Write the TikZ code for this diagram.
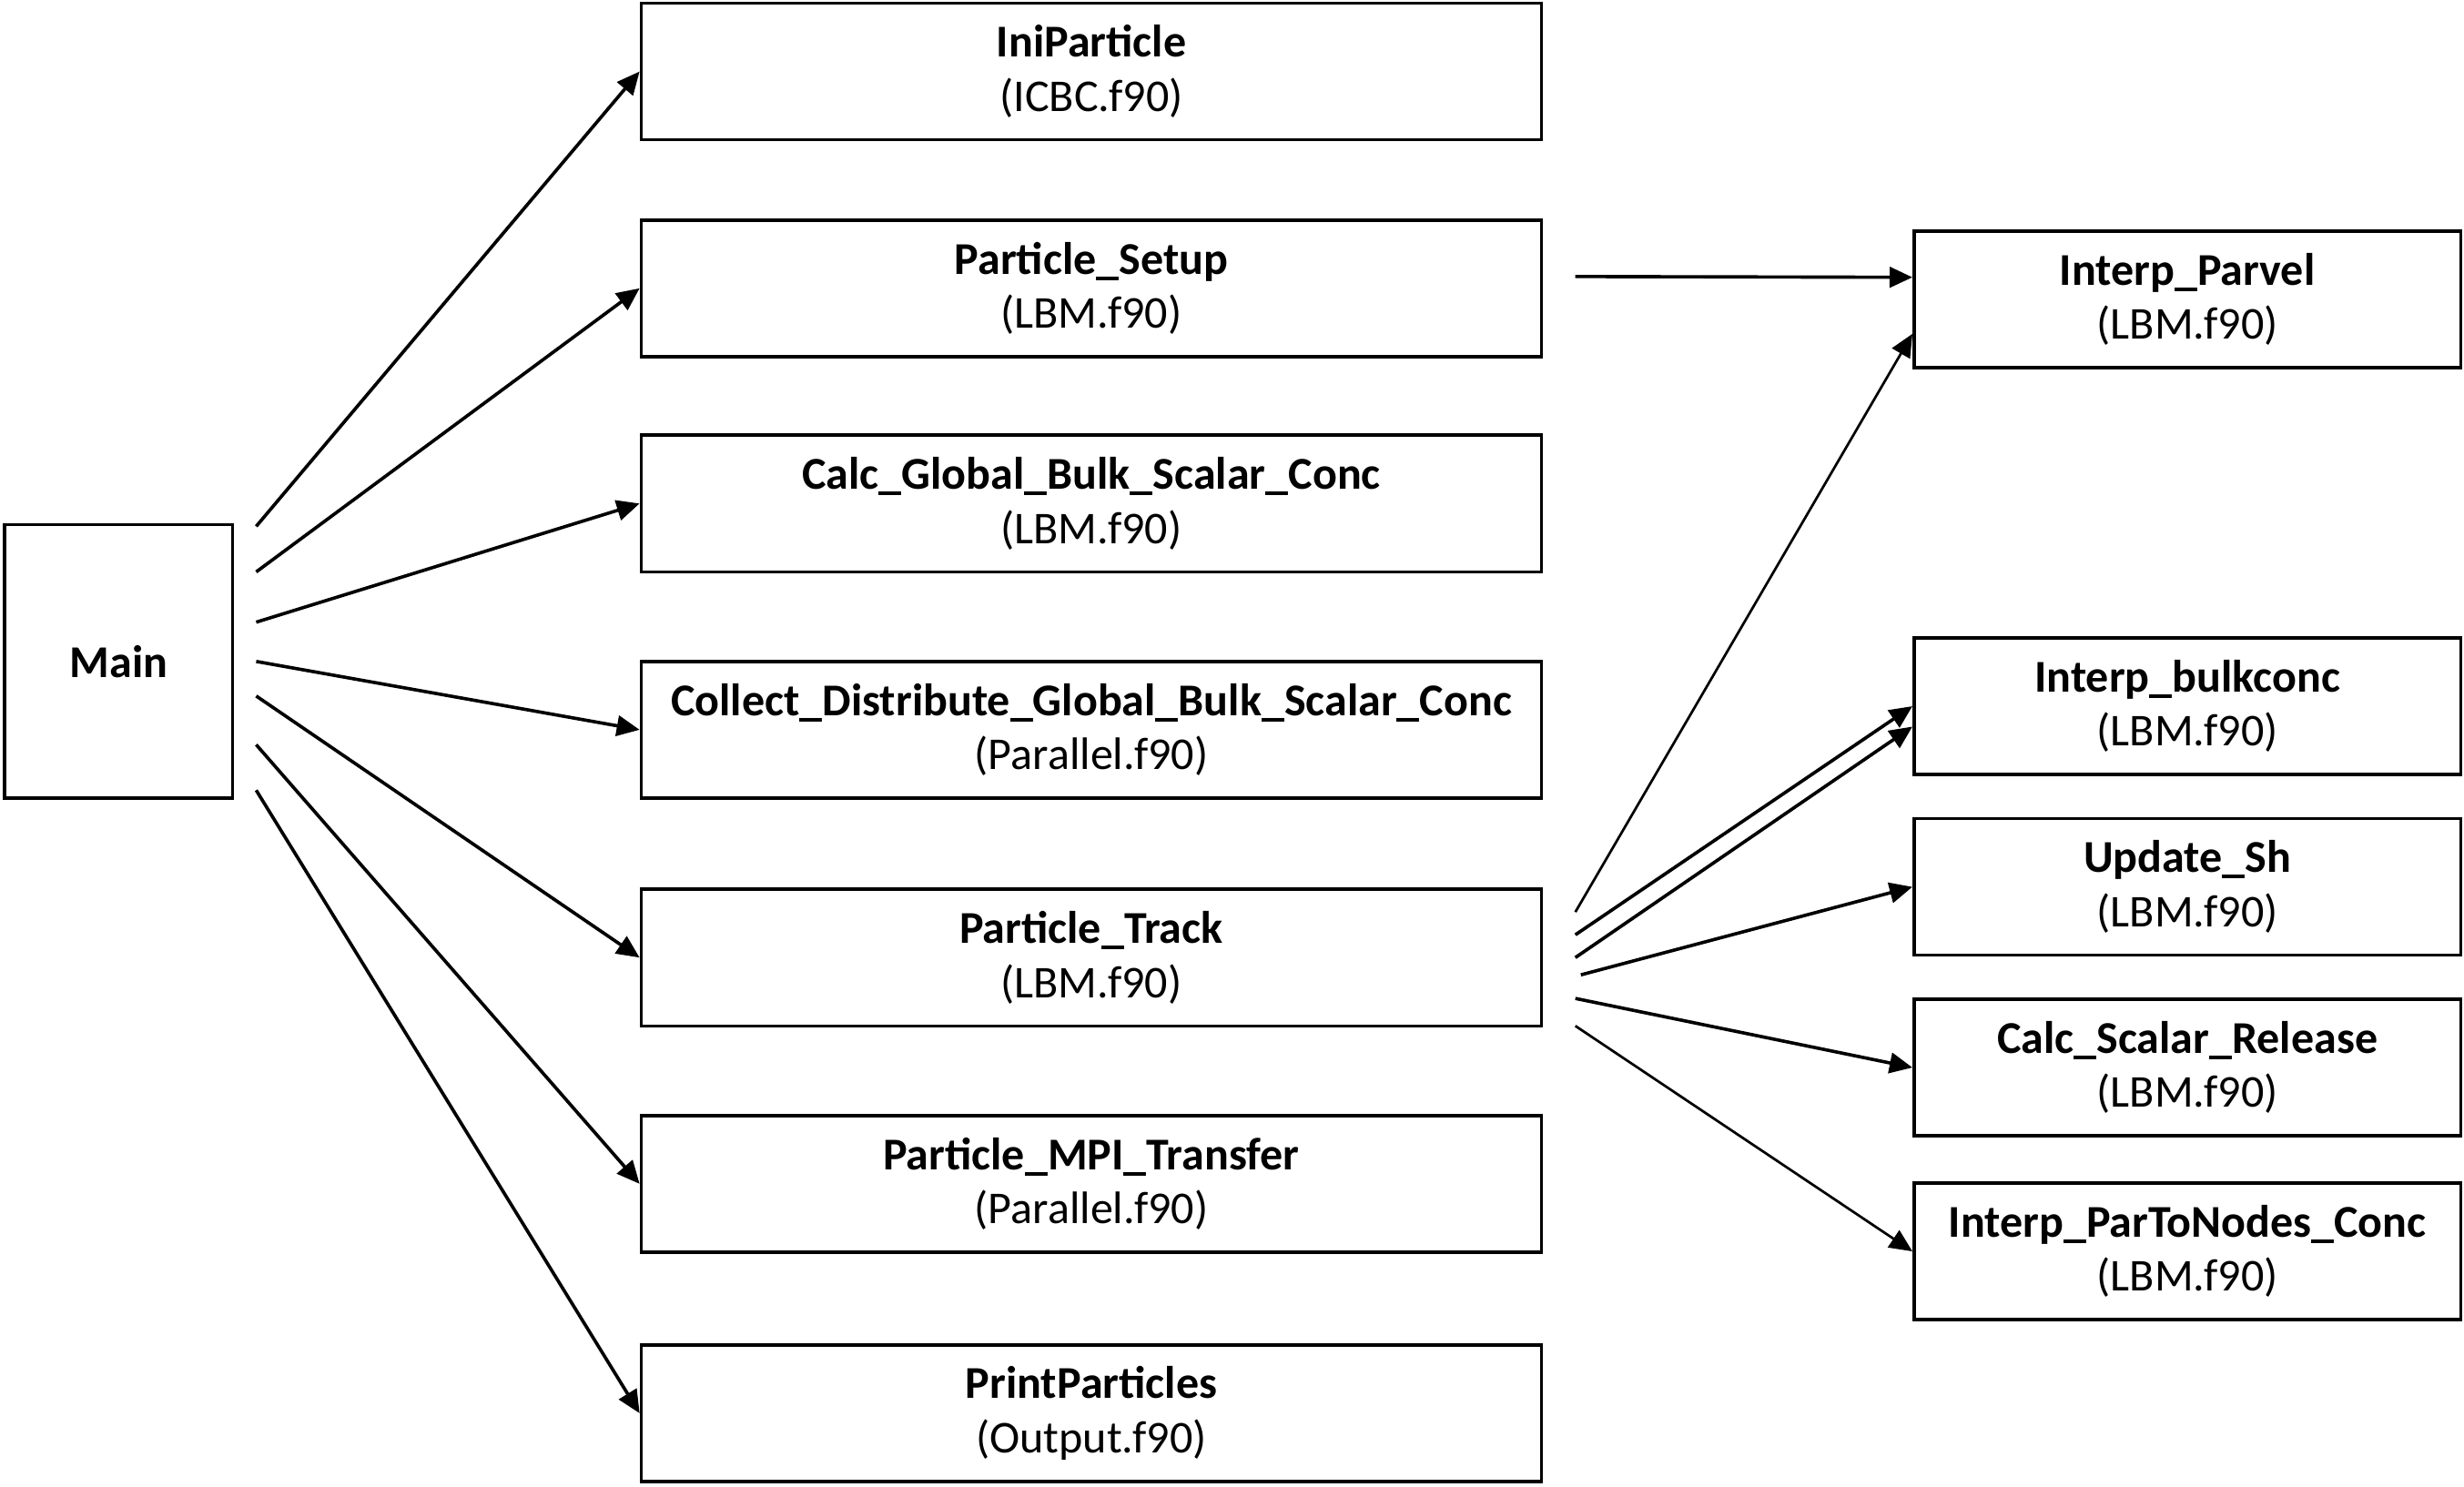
\documentclass[tikz,border=0pt]{standalone}
\usepackage{fontspec}
\setmainfont{Carlito}
\usetikzlibrary{arrows.meta}

\begin{document}
\begin{tikzpicture}[
  x=0.02cm, y=-0.02cm,
  routine/.style = {draw, line width=1.2pt, align=center, inner sep=2pt,
    minimum height=1.74cm, font=\fontsize{16.5}{19.6}\selectfont},
  mainbox/.style = {routine, minimum width=2.9cm, minimum height=3.48cm},
  midbox/.style = {routine, minimum width=11.46cm},
  sidebox/.style = {routine, minimum width=6.96cm},
  call/.style = {-{Triangle[length=0.29cm,width=0.26cm]}, line width=1.2pt}
  ]
  \useasboundingbox (0,0) rectangle (1568,946);
  % caller
  \node[mainbox] (main) at (75.5,421) {\textbf{Main}};
  % routines called from main
  \node[midbox] (ini)     at (694.5,45.5)  {\textbf{IniParticle}\\(ICBC.f90)};
  \node[midbox] (setup)   at (694.5,183.5) {\textbf{Particle\_Setup}\\(LBM.f90)};
  \node[midbox] (calc)    at (694.5,320.5) {\textbf{Calc\_Global\_Bulk\_Scalar\_Conc}\\(LBM.f90)};
  \node[midbox] (collect) at (694.5,464.5) {\textbf{Collect\_Distribute\_Global\_Bulk\_Scalar\_Conc}\\(Parallel.f90)};
  \node[midbox] (track)   at (694.5,609.5) {\textbf{Particle\_Track}\\(LBM.f90)};
  \node[midbox] (mpi)     at (694.5,753.5) {\textbf{Particle\_MPI\_Transfer}\\(Parallel.f90)};
  \node[midbox] (print)   at (694.5,899.5) {\textbf{PrintParticles}\\(Output.f90)};
  % routines called from setup and track
  \node[sidebox] (parvel)  at (1392,190.5) {\textbf{Interp\_Parvel}\\(LBM.f90)};
  \node[sidebox] (bulk)    at (1392,449.5) {\textbf{Interp\_bulkconc}\\(LBM.f90)};
  \node[sidebox] (sh)      at (1392,564.5) {\textbf{Update\_Sh}\\(LBM.f90)};
  \node[sidebox] (release) at (1392,679.5) {\textbf{Calc\_Scalar\_Release}\\(LBM.f90)};
  \node[sidebox] (nodes)   at (1392,796.5) {\textbf{Interp\_ParToNodes\_Conc}\\(LBM.f90)};

  \foreach \dy/\callee in {1.72/ini, 1.14/setup, 0.5/calc, 0/collect,
                           -0.44/track, -1.06/mpi, -1.64/print}
    \draw[call] ([xshift=0.28cm,yshift=\dy cm]main.east) -- (\callee.west);

  \draw[call] ([xshift=0.41cm,yshift=0.15cm]setup.east) -- ([yshift=0.28cm]parvel.west);
  \draw[call,line width=0.9pt] ([xshift=0.41cm,yshift=0.58cm]track.east) -- ([yshift=-0.44cm]parvel.west);
  \draw[call] ([xshift=0.41cm,yshift=0.29cm]track.east) -- (bulk.west);
  \draw[call] ([xshift=0.41cm]track.east) -- ([yshift=-0.26cm]bulk.west);
  \draw[call] ([xshift=0.48cm,yshift=-0.22cm]track.east) -- (sh.west);
  \draw[call] ([xshift=0.41cm,yshift=-0.52cm]track.east) -- (release.west);
  \draw[call,line width=0.9pt] ([xshift=0.41cm,yshift=-0.87cm]track.east) -- (nodes.west);
\end{tikzpicture}
\end{document}
